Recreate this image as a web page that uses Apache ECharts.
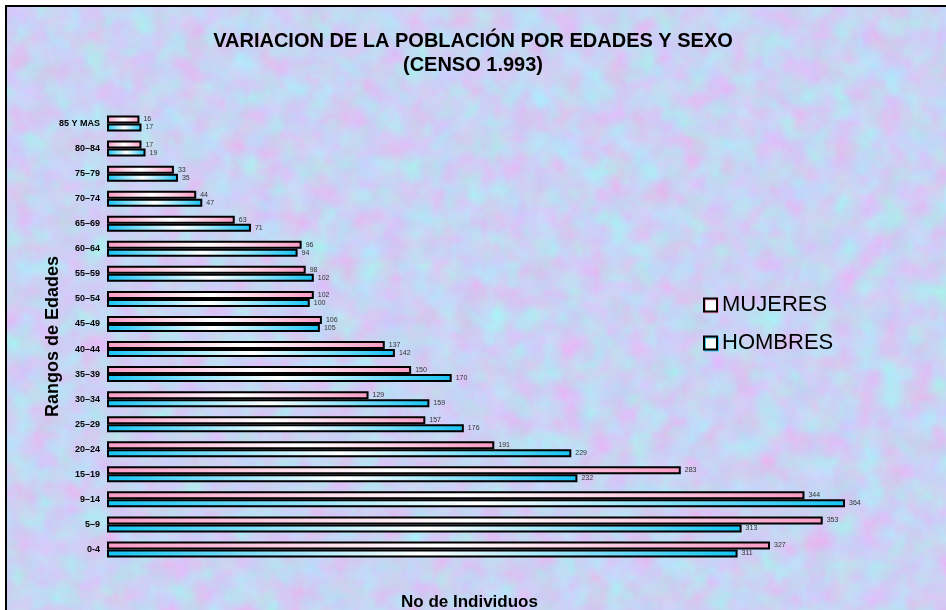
<!DOCTYPE html>
<html style="height: 100%">
<head>
    <meta charset="utf-8">
    <script type="text/javascript" src="https://cdn.jsdelivr.net/npm/echarts@6/dist/echarts.min.js"></script>
    <style>
        body { margin: 0; background: #fff; }
        #frame {
            position: absolute; left: 5px; top: 5px; width: 939px; height: 603px;
            border-top: 2px solid #000; border-left: 2px solid #000;
            background-color: #c9d3f6;
        }
        #container { position: absolute; left: 0; top: 0; width: 946px; height: 610px; }
    </style>
</head>
<body>
<div id="frame"></div>
<div id="container"></div>
<script type="text/javascript">
    // rangos de edad, de arriba hacia abajo
    var rangos = ['85 Y MAS', '80–84', '75–79', '70–74', '65–69', '60–64', '55–59', '50–54',
        '45–49', '40–44', '35–39', '30–34', '25–29', '20–24', '15–19', '9–14', '5–9', '0-4'];
    var mujeres = [16, 17, 33, 44, 63, 96, 98, 102, 106, 137, 150, 129, 157, 191, 283, 344, 353, 327];
    var hombres = [17, 19, 35, 47, 71, 94, 102, 100, 105, 142, 170, 159, 176, 229, 232, 364, 313, 311];

    // fondo tipo "papel" pastel (textura svg)
    var textura = '<svg xmlns="http://www.w3.org/2000/svg" width="939" height="603">' +
        '<filter id="f" color-interpolation-filters="sRGB"><feTurbulence type="fractalNoise" baseFrequency="0.04" numOctaves="3" seed="7"/>' +
        '<feColorMatrix type="matrix" values="0.22 -0.15 0 0 0.755  -0.15 0.2 0 0 0.8  0 0 0.1 0 0.905  0 0 0 0 1"/></filter>' +
        '<rect width="100%" height="100%" filter="url(#f)"/></svg>';
    document.getElementById('frame').style.backgroundImage =
        'url("data:image/svg+xml;utf8,' + encodeURIComponent(textura) + '")';

    var myChart = echarts.init(document.getElementById('container'));

    function degradado(c) {
        return new echarts.graphic.LinearGradient(0, 0, 1, 0, [
            {offset: 0, color: c},
            {offset: 0.5, color: '#ffffff'},
            {offset: 1, color: c}
        ]);
    }

    var etiqueta = {
        show: true,
        position: 'right',
        distance: 4,
        fontSize: 7,
        color: '#333',
        fontFamily: 'Liberation Sans'
    };

    var option = {
        animation: false,
        title: [{
            text: 'VARIACION DE LA POBLACIÓN POR EDADES Y SEXO\n(CENSO 1.993)',
            left: 'center',
            top: 24,
            textStyle: {
                fontFamily: 'Liberation Sans',
                fontSize: 20,
                fontWeight: 'bold',
                color: '#000',
                lineHeight: 24
            }
        }, {
            text: 'No de Individuos',
            left: 396,
            top: 589,
            textStyle: {fontFamily: 'Liberation Sans', fontSize: 17, fontWeight: 'bold', color: '#000'}
        }],
        legend: {
            orient: 'vertical',
            left: 698,
            top: 289,
            itemWidth: 13,
            itemHeight: 13,
            itemGap: 16,
            icon: 'rect',
            textStyle: {fontSize: 22, color: '#000', fontFamily: 'Liberation Sans'},
            data: [
                {name: 'MUJERES', itemStyle: {color: '#ffffff', borderColor: '#000', borderWidth: 2, shadowColor: '#f7a6cc', shadowOffsetX: 1, shadowOffsetY: 1}},
                {name: 'HOMBRES', itemStyle: {color: '#ffffff', borderColor: '#000', borderWidth: 2, shadowColor: '#3fc8f2', shadowOffsetX: 1, shadowOffsetY: 1}}
            ]
        },
        grid: {left: 107, right: 28, top: 111, bottom: 48, containLabel: false},
        xAxis: {
            type: 'value',
            min: 0,
            max: 400,
            axisLine: {show: false},
            axisTick: {show: false},
            axisLabel: {show: false},
            splitLine: {show: false}
        },
        yAxis: {
            type: 'category',
            inverse: true,
            data: rangos,
            name: 'Rangos de Edades',
            nameLocation: 'middle',
            nameGap: 45,
            nameMoveOverlap: false,
            nameRotate: 90,
            nameTextStyle: {fontSize: 18, fontWeight: 'bold', color: '#000', fontFamily: 'Liberation Sans'},
            axisLine: {show: false},
            axisTick: {show: false},
            axisLabel: {fontSize: 9, fontWeight: 'bold', color: '#000', margin: 7, fontFamily: 'Liberation Sans'}
        },
        series: [{
            name: 'MUJERES',
            type: 'bar',
            data: mujeres,
            barWidth: 8,
            barGap: '0%',
            itemStyle: {color: degradado('#f99cc6'), borderColor: '#000', borderWidth: 2},
            label: etiqueta
        }, {
            name: 'HOMBRES',
            type: 'bar',
            data: hombres,
            barWidth: 8,
            barGap: '0%',
            itemStyle: {color: degradado('#16c4f4'), borderColor: '#000', borderWidth: 2},
            label: etiqueta
        }]
    };
    myChart.setOption(option);
</script>
</body>
</html>
